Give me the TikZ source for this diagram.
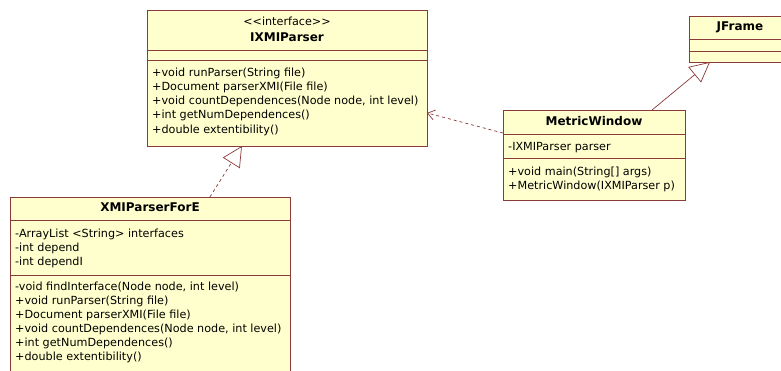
\documentclass[tikz,border=0pt]{standalone}
\usepackage{fontspec}
\setmainfont{DejaVu Sans}
\usetikzlibrary{positioning, calc, arrows.meta}

\definecolor{umlfill}{RGB}{255,255,206}
\definecolor{umlline}{RGB}{138,58,58}

\newcommand{\umlfont}{\fontsize{11.2}{14.2}\selectfont}
\newcommand{\umlnamefont}{\fontsize{12}{14.2}\selectfont\bfseries}

\tikzset{
  classbox/.style={draw=umlline, fill=umlfill, line width=1pt, inner sep=0pt, outer sep=0pt, anchor=north west},
  classname/.style={font=\umlnamefont, inner sep=0pt},
  stereotype/.style={font=\umlfont, inner sep=0pt},
  members/.style={font=\umlfont, align=left, inner sep=0pt, anchor=north west},
  divider/.style={draw=umlline, line width=1pt},
  realize/.style={draw=umlline, line width=0.7pt, dash pattern=on 3pt off 3pt,
    -{Triangle[open, length=20pt, width=20pt, fill=white]}},
  inherit/.style={draw=umlline, line width=0.7pt,
    -{Triangle[open, length=20pt, width=20pt, fill=white]}},
  depend/.style={draw=umlline, line width=0.7pt, dash pattern=on 3pt off 3pt,
    -{Straight Barb[length=7pt, width=10pt]}},
}

\begin{document}
\begin{tikzpicture}[x=1pt, y=-1pt]
  \useasboundingbox[fill=white] (0,0) rectangle (781,370);

  % interface
  \node[classbox, minimum width=280pt, minimum height=136pt] (iface) at (147,10) {};
  \draw[divider] ($(iface.north west)+(0,40)$) -- ($(iface.north east)+(0,40)$);
  \draw[divider] ($(iface.north west)+(0,50)$) -- ($(iface.north east)+(0,50)$);
  \node[stereotype] (iface-st) at ($(iface.north)+(0,11)$) {<\kern0pt<interface>\kern0pt>};
  \node[classname] (iface-name) at ($(iface.north)+(0,27)$) {IXMIParser};
  \node[members] (iface-ops) at ($(iface.north west)+(5,57.5)$) {%
    +void runParser(String file)\\
    +Document parserXMI(File file)\\
    +void countDependences(Node node, int level)\\
    +int getNumDependences()\\
    +double extentibility()};

  % implementation
  \node[classbox, minimum width=280pt, minimum height=200pt] (forE) at (10,197) {};
  \draw[divider] ($(forE.north west)+(0,23)$) -- ($(forE.north east)+(0,23)$);
  \draw[divider] ($(forE.north west)+(0,78)$) -- ($(forE.north east)+(0,78)$);
  \node[classname] (forE-name) at ($(forE.north)+(0,10.5)$) {XMIParserForE};
  \node[members] (forE-attr) at ($(forE.north west)+(5,31.5)$) {%
    -ArrayList <String> interfaces\\
    -int depend\\
    -int dependI};
  \node[members, font=\fontsize{11.2}{13.9}\selectfont] (forE-ops) at ($(forE.north west)+(5,85)$) {%
    -void findInterface(Node node, int level)\\
    +void runParser(String file)\\
    +Document parserXMI(File file)\\
    +void countDependences(Node node, int level)\\
    +int getNumDependences()\\
    +double extentibility()};

  % window
  \node[classbox, minimum width=182pt, minimum height=90pt] (metric) at (503,110) {};
  \draw[divider] ($(metric.north west)+(0,24)$) -- ($(metric.north east)+(0,24)$);
  \draw[divider] ($(metric.north west)+(0,48)$) -- ($(metric.north east)+(0,48)$);
  \node[classname] (metric-name) at ($(metric.north)+(0,11.5)$) {MetricWindow};
  \node[members] (metric-attr) at ($(metric.north west)+(5,32)$) {-IXMIParser parser};
  \node[members] (metric-ops) at ($(metric.north west)+(5,57)$) {%
    +void main(String[] args)\\
    +MetricWindow(IXMIParser p)};

  % swing base class
  \node[classbox, minimum width=102pt, minimum height=46pt] (jframe) at (689,16) {};
  \draw[divider] ($(jframe.north west)+(0,23)$) -- ($(jframe.north east)+(0,23)$);
  \draw[divider] ($(jframe.north west)+(0,35)$) -- ($(jframe.north east)+(0,35)$);
  \node[classname] (jframe-name) at ($(jframe.north)+(0,11)$) {JFrame};

  % relations
  \draw[realize] ($(forE.north west)!0.714!(forE.north east)$) -- ($(iface.south west)!0.339!(iface.south east)$);
  \draw[depend] ($(metric.north west)!0.256!(metric.south west)$) -- ($(iface.north east)!0.757!(iface.south east)$);
  \draw[inherit] ($(metric.north west)!0.819!(metric.north east)$) -- ($(jframe.south west)!0.206!(jframe.south east)$);
\end{tikzpicture}
\end{document}
